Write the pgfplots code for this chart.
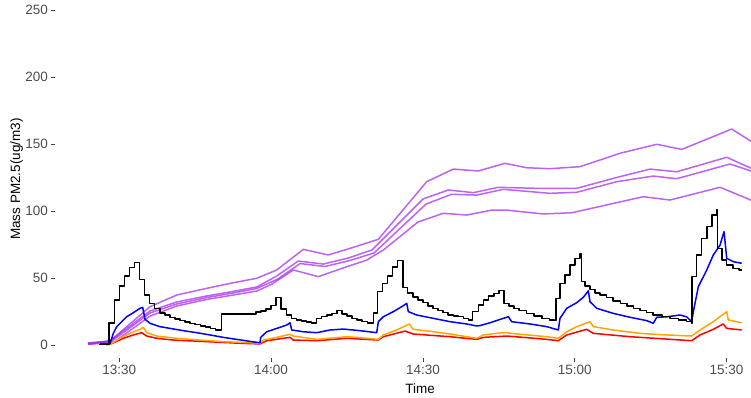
\documentclass[border=0pt]{standalone}
\usepackage{fontspec}
\setmainfont{Liberation Sans}
\usepackage{pgfplots}
\pgfplotsset{compat=1.18}
\definecolor{tickgray}{HTML}{4D4D4D}
\definecolor{ggpurple}{HTML}{A020F0}
\definecolor{ggorange}{HTML}{FFA500}
\begin{document}
\begin{tikzpicture}[x=1pt,y=1pt]
\useasboundingbox (0,0) rectangle (751,397);
\begin{axis}[
  at={(55pt,39pt)}, anchor=south west,
  scale only axis, width=696pt, height=358pt,
  xmin=17.29, xmax=154.84, ymin=-9.7, ymax=257.5,
  axis lines*=left, axis line style={draw=none},
  tick align=outside, major tick length=4pt,
  tick style={color=black!75, line width=0.6pt},
  xtick={30,60,90,120,150}, xticklabels={13:30,14:00,14:30,15:00,15:30},
  ytick={0,50,100,150,200,250}, yticklabels={0,50,100,150,200,250},
  ticklabel style={font=\fontsize{13.5}{16}\selectfont, text=tickgray},
  xticklabel style={inner sep=0pt, anchor=north, yshift=-3pt},
  yticklabel style={inner sep=0pt, anchor=east, xshift=-3pt},
  minor tick num=0,
  clip=true,
  every axis plot/.append style={line width=1.5pt, line join=round},
]
% purple lines
\addplot[ggpurple, opacity=0.7] coordinates {(23.81,1.5)(28.16,3)(36.07,28.6)(41.34,37.3)(47.27,42.3)(51.88,46)(57.15,49.8)(61.11,56)(66.36,71.4)(71.3,67.2)(76.25,72.9)(81.19,78.9)(90.75,121.9)(96.01,131.3)(100.95,129.9)(106.23,135.6)(110.51,132.3)(115.12,131.6)(121.05,133.1)(128.95,143.1)(136.21,149.8)(141.15,146)(151.03,161.2)(154.64,152.5)(156,149)};
\addplot[ggpurple, opacity=0.7] coordinates {(23.81,1.3)(28.16,3)(36.07,25.4)(41.34,32.1)(47.27,36.6)(51.88,39.6)(57.15,43.3)(61.11,51.5)(65.38,62.7)(70.32,60.4)(75.2,64.9)(79.94,70.9)(90.02,109)(95.02,115.7)(99.96,113.7)(104.9,117.7)(112.81,116.9)(120.4,116.9)(127.63,124.4)(134.88,131.3)(140.16,129.3)(150.04,140.1)(154.64,132.3)(156,130)};
\addplot[ggpurple, opacity=0.7] coordinates {(23.81,0.7)(28.56,3)(36.07,23.9)(41.34,30.6)(47.27,35.4)(51.88,38.4)(57.15,42.2)(61.36,49.3)(65.71,60.8)(70.65,58.6)(75.59,63.1)(80.34,68.7)(90.61,105.2)(95.69,112.5)(100.63,111.9)(105.89,116.2)(115.12,113.2)(120.4,114)(128.3,121.9)(135.53,126.1)(140.16,124.1)(150.69,135.1)(154.64,130.1)(156,128)};
\addplot[ggpurple, opacity=0.7] coordinates {(23.81,0.4)(28.95,2.2)(36.07,21.6)(41.34,29.1)(47.27,34)(51.88,36.9)(57.15,40.3)(60.18,45.5)(64.39,56)(69.33,51)(74.21,57.5)(78.89,63.4)(82.17,70.9)(89.03,91.8)(94.03,98.3)(98.66,97)(103.6,100.7)(106.56,100.7)(113.79,97.8)(119.41,98.7)(133.56,110.7)(138.83,108.2)(148.72,117.7)(153.99,109.5)(155.63,106.7)};
% red
\addplot[red] coordinates {(27.37,0.3)(28.16,0.5)(30.79,5)(32.77,7.5)(34.43,9.2)(35.41,6.7)(37.39,5)(40.67,3.7)(47.27,2.5)(53.85,1.3)(57.81,0.8)(59.13,3.2)(63.74,5.7)(64.39,3.7)(69.01,3.2)(74.94,5)(81.19,3.7)(82.17,6.2)(86.46,10.4)(88.1,8.2)(95.36,6.2)(100.63,4.2)(101.94,5.7)(106.56,6.7)(110.51,5.5)(114.47,4.2)(116.76,3.2)(118.42,7.5)(122.37,11.7)(123.68,8.7)(130.93,6.2)(143.12,3.2)(144.76,7.5)(147.39,11.7)(149.37,15.7)(150.04,12.4)(153.0,11.2)};
% orange
\addplot[ggorange] coordinates {(27.37,0.5)(28.16,0.5)(30.14,5)(32.11,8.7)(34.09,11.7)(34.74,13.2)(35.41,9.2)(37.39,6.7)(41.34,5)(45.95,3.7)(50.55,2.5)(57.15,1.5)(57.81,1.3)(58.46,3.7)(61.11,5.7)(63.74,8)(64.39,6.7)(69.01,4.2)(74.94,6.2)(77.57,5.5)(81.19,4.2)(82.17,7.5)(84.82,11.2)(87.31,15.7)(88.1,11.7)(92.06,9.9)(95.36,8.2)(100.63,5)(101.94,7.5)(105.24,9)(106.56,9.2)(107.87,8.5)(114.47,6.2)(116.76,5)(118.42,9.9)(120.4,13.7)(123.02,17.4)(123.68,13.7)(127.63,11.2)(132.9,8.7)(138.18,7.5)(143.12,6.7)(144.76,11.2)(147.39,17.4)(150.04,24.9)(150.36,18.7)(153.0,16.6)};
% blue
\addplot[blue] coordinates {(26.19,1)(28.16,1)(28.81,8.7)(29.49,13.7)(30.47,17.4)(31.46,21.1)(32.77,24.1)(34.09,27.4)(34.62,28.1)(35.08,19.2)(36.07,16.2)(38.04,13.7)(40.02,12.4)(42.65,10.7)(45.3,9.2)(47.92,7.5)(50.55,5.7)(53.2,4.2)(55.83,2.7)(57.81,1.7)(57.94,5.7)(59.13,9.9)(61.11,12.4)(63.08,14.9)(63.74,16.6)(64.07,11.2)(66.36,9.9)(69.01,9.2)(71.64,11.2)(74.27,11.9)(77.57,10.7)(80.87,9.2)(81.19,17.4)(82.17,21.1)(84.15,24.9)(85.81,28.6)(86.8,31.1)(87.11,24.9)(88.77,22.4)(92.06,19.9)(95.36,17.4)(98.66,15.7)(100.63,14.2)(101.28,14.5)(103.26,16.6)(105.89,19.9)(106.88,21.1)(107.55,17.4)(111.17,15.7)(114.47,13.7)(116.76,11.2)(117.09,19.9)(118.42,27.4)(120.4,31.6)(121.7,35.6)(122.69,40.5)(123.02,32.3)(124.35,27.4)(127.63,23.6)(130.93,20.7)(134.23,18.2)(135.53,16.2)(136.21,20.7)(138.18,21)(140.81,22.4)(142.13,21)(143.12,17.4)(143.44,24.9)(144.43,43.5)(146.09,56)(147.39,67.2)(148.72,74.6)(149.51,84.6)(150.04,64.7)(151.34,62.2)(153.0,61)};
% black (step)
\addplot[black, const plot] coordinates {(26,0.5)(28,16.6)(29,33.6)(30,44)(31,51.5)(32,58)(33,61.4)(34,49)(35,37.3)(36,31)(37,27.4)(38,24)(39,22.4)(40,20.7)(41,19.5)(42,18.3)(43,17.2)(44,16.2)(45,15.2)(46,14.3)(47,13.4)(48,12.4)(49,11.2)(50.2,23.1)(57,24.5)(58,25.5)(59,27)(60,29.5)(61,35.3)(62,27)(63,22.4)(64,19.9)(65,18.7)(66,17.8)(67,17.2)(68,16.4)(69,19.9)(70,21.1)(71,22.4)(72,23.6)(73,25.6)(74,23.1)(75,21.5)(76,19.9)(77,18.7)(78,17.4)(79,16.6)(80.2,24)(81,39.8)(82,46)(83,51.5)(84,58.4)(85,62.9)(86.1,43)(87,39)(88,36)(89,33.6)(90,31.6)(91,29.1)(92,27.4)(93,25.6)(94,24.1)(95,22.4)(96,21.6)(97,21.1)(98,19.9)(99,18.7)(99.8,24.9)(101,29.9)(102,33.6)(103,36.6)(104,38.5)(105,40.5)(106,31.1)(107,29.1)(108,27.4)(109,25.6)(110.5,23.6)(112,21.6)(113.5,19.9)(115,18.7)(116,18.2)(116.3,34.8)(117.1,46)(118.1,52.2)(119.1,59.7)(120.1,64.7)(121,67.9)(121.3,47.3)(122,44)(123,41.5)(124,39)(125,37.3)(126.3,35.6)(127.6,33)(129,31.1)(130.3,29.1)(131.6,27.4)(132.9,25.6)(134.2,24.1)(135.5,22.4)(137.2,21.1)(138.8,19.9)(140.5,18.7)(142.1,17.4)(143.1,16.2)(143.2,51)(144.1,67.2)(145.1,79.6)(146.1,88.3)(147.1,97)(148.1,101.3)(148.2,72.2)(149.1,63.4)(150,59.7)(151.3,57.2)(152.5,56)(153,56)};
\end{axis}
\node[rotate=90, font=\fontsize{13.5}{16}\selectfont] at (16.7,218) {Mass PM2.5(ug/m3)};
\node[font=\fontsize{13.5}{16}\selectfont] at (420,8) {Time};
\end{tikzpicture}
\end{document}
